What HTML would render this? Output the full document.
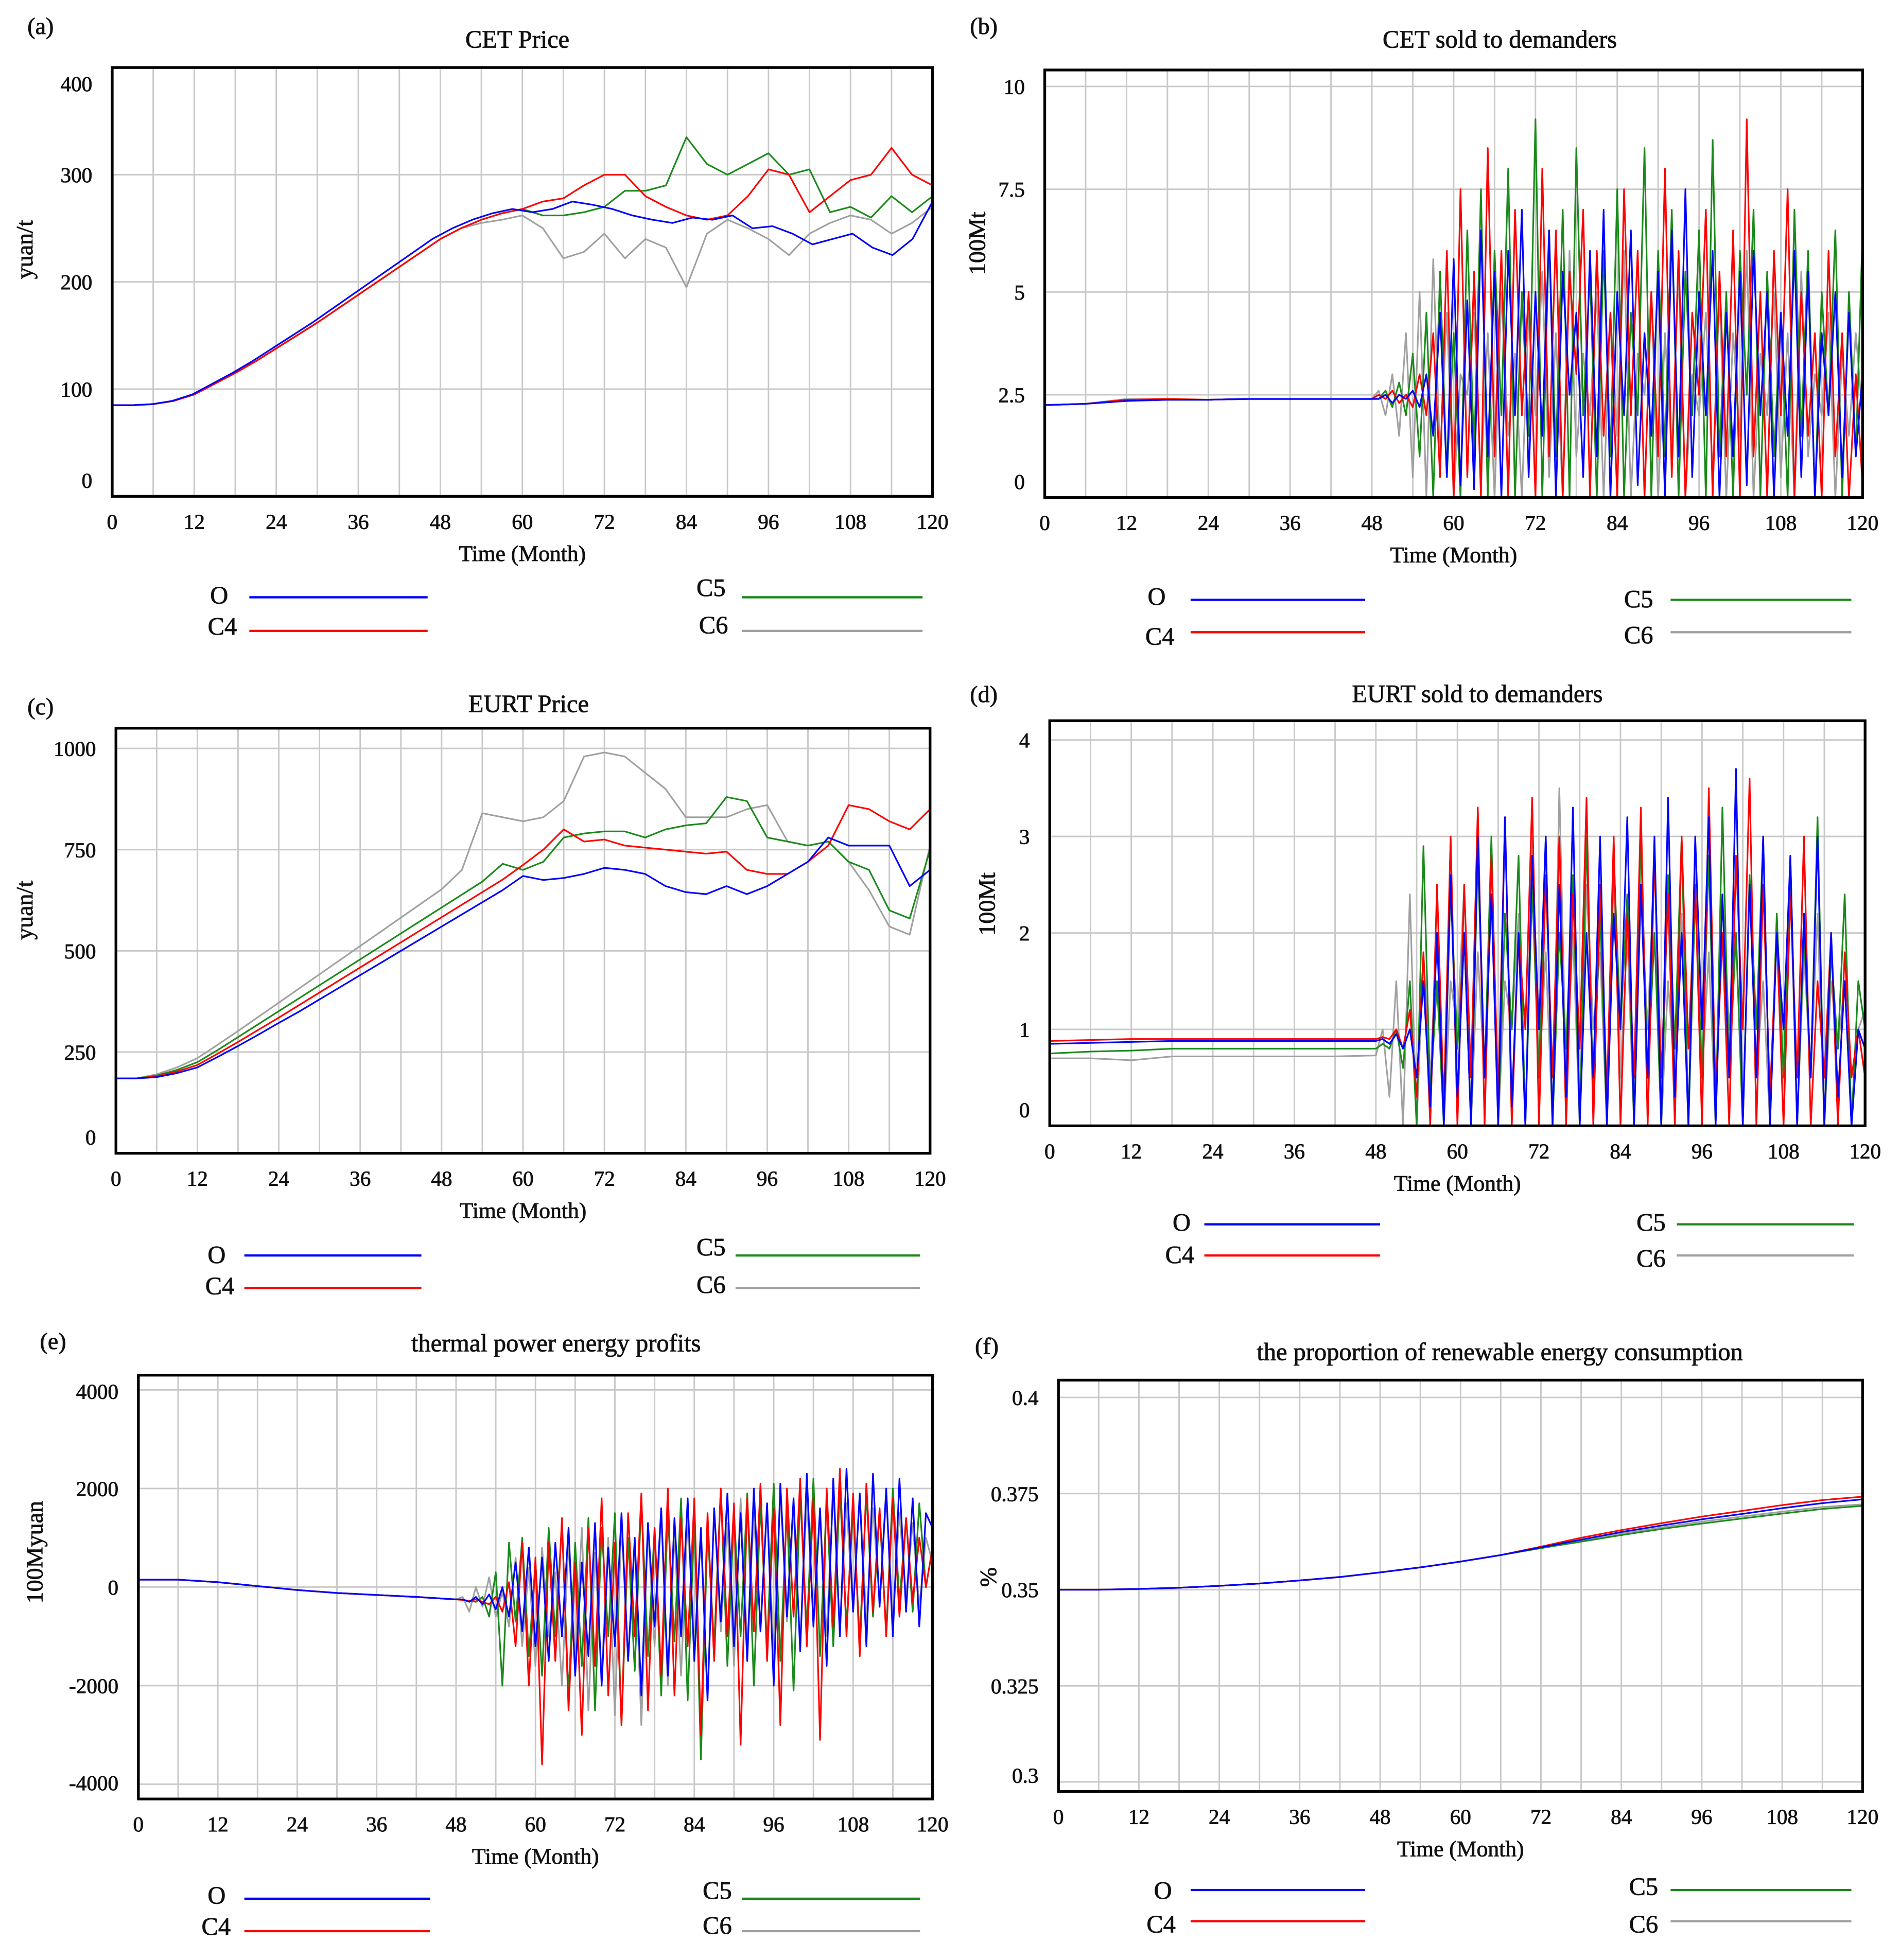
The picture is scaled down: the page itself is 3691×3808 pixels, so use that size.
<!DOCTYPE html>
<html><head><meta charset="utf-8">
<style>
html,body{margin:0;padding:0;background:#fff;}
svg{display:block;}
text{font-family:"Liberation Serif",serif;fill:#111;stroke:#111;stroke-width:0.35;}
</style></head>
<body>
<svg id="fig" xmlns="http://www.w3.org/2000/svg" width="3691" height="3808" viewBox="0 0 1524 1572">
<rect x="0" y="0" width="1524" height="1572" fill="#fff"/>
</svg>
<script>
// ---------- data ----------
const xTickLabels = [0,12,24,36,48,60,72,84,96,108,120];
const seriesNames = ["O","C4","C5","C6"];

// (a) CET price, 0..120 step 3
const cetPriceO  = [85,85,86,89,95,105,115,126,138,150,162,175,188,201,214,227,240,250,258,264,268,265,268,275,272,268,262,258,255,260,258,262,250,252,245,235,240,245,232,225,240,275];
const cetPriceC4 = [85,85,86,89,95,105,115,126,138,150,162,175,188,201,214,227,240,250,258,264,268,275,278,290,300,300,280,270,262,258,262,280,305,300,265,280,295,300,325,300,290];
const cetPriceC5 = [85,85,86,89,95,105,115,126,138,150,162,175,188,201,214,227,240,250,258,264,268,262,262,265,270,285,285,290,335,310,300,310,320,300,305,265,270,260,280,265,280];
const cetPriceC6 = [85,85,86,89,95,105,115,126,138,150,162,175,188,201,214,227,240,250,255,258,262,250,222,228,245,222,240,232,195,245,258,250,240,225,245,255,262,258,245,255,270];

// (b) CET sold: prefix 0..48 step 6, then 48..120
const cetSoldPreO  = [2.25,2.28,2.35,2.38,2.38,2.40,2.40,2.40,2.40];
const cetSoldPreC4 = [2.25,2.28,2.38,2.40,2.38,2.40,2.40,2.40,2.40];
const cetSoldPreC5 = [2.25,2.28,2.36,2.38,2.38,2.40,2.40,2.40,2.40];
const cetSoldPreC6 = [2.25,2.28,2.40,2.38,2.38,2.40,2.40,2.40,2.40];
const cetSoldO  = [2.4,2.4,2.5,2.3,2.5,2.4,2.6,2.2,3.0,1.5,4.5,0.5,5.8,0.3,4.8,0.2,6.5,1.0,5.5,0.0,6.0,2.0,7.0,0.5,5.0,1.5,6.5,0.0,5.5,2.5,4.5,0.5,6.0,1.0,7.0,0.0,5.0,2.0,6.5,0.3,4.0,1.5,5.5,0.0,6.5,1.0,7.5,0.5,5.0,2.0,6.0,0.0,4.5,1.0,5.5,0.3,6.0,2.0,5.0,0.0,4.5,1.5,6.0,0.5,5.5,0.0,4.0,2.0,5.0,0.5,4.5,1.0,3.0];
const cetSoldC4 = [2.4,2.5,2.4,2.6,2.3,2.5,2.2,3.0,2.0,4.0,0.5,6.0,0.0,7.5,0.5,5.5,0.0,8.5,1.0,6.0,0.0,7.0,2.0,5.0,0.0,8.0,1.0,6.5,0.0,5.5,3.0,7.0,0.0,6.0,1.5,4.5,0.0,7.5,2.0,6.0,0.0,5.0,1.0,8.0,0.5,6.0,0.0,4.5,2.5,7.0,0.0,5.5,1.0,6.5,0.0,9.2,1.0,5.0,0.0,6.0,2.0,7.5,0.0,5.0,1.5,4.0,0.0,6.0,1.0,4.0,0.0,3.0,0.3];
const cetSoldC5 = [2.4,2.4,2.6,2.2,2.8,2.0,3.5,1.0,4.5,0.0,5.5,0.5,4.0,0.0,6.5,1.0,7.5,0.0,6.0,2.0,8.0,0.0,5.0,1.5,9.2,0.0,6.5,1.0,7.0,0.0,8.5,2.0,5.5,0.0,6.0,1.0,7.5,0.0,4.5,2.0,8.5,0.0,6.0,1.0,7.0,0.0,5.5,2.0,6.5,0.0,8.7,1.0,5.0,0.0,6.0,2.5,7.0,0.0,5.5,1.0,4.5,0.0,7.0,1.5,6.0,0.0,5.0,2.0,6.5,0.0,5.0,1.0,6.5];
const cetSoldC6 = [2.4,2.6,2.0,3.0,1.5,4.0,0.5,5.0,0.0,5.8,1.0,4.5,0.0,3.0,2.5,4.5,0.5,4.0,0.0,5.0,1.5,3.5,0.0,4.5,2.0,5.5,0.5,4.0,0.0,6.0,1.0,3.5,2.0,5.0,0.0,4.5,1.5,6.0,0.0,3.5,2.5,5.0,0.0,4.0,1.0,5.5,0.0,3.0,2.0,4.5,0.5,5.0,0.0,4.0,1.5,6.0,0.0,3.5,2.0,5.0,0.5,4.0,0.0,5.5,1.0,3.0,2.0,4.5,0.0,3.5,1.5,4.0,2.0];

// (c) EURT price, 0..120 step 3
const eurtPriceO  = [185,185,188,198,212,238,265,293,322,350,380,410,440,470,500,530,560,590,620,650,685,675,680,690,705,700,690,660,645,640,660,640,660,690,720,780,760,760,760,660,700];
const eurtPriceC4 = [185,185,190,202,218,246,275,305,335,366,397,428,459,490,521,552,583,614,645,676,712,750,800,770,775,760,755,750,745,740,745,700,690,690,720,760,860,850,820,800,850];
const eurtPriceC5 = [185,185,192,206,225,255,287,319,351,383,415,447,479,511,543,575,607,639,671,715,700,720,780,790,795,795,780,800,810,815,880,870,780,770,760,770,720,700,600,580,750];
const eurtPriceC6 = [185,185,195,212,235,268,302,337,372,407,442,477,512,547,582,617,652,700,840,830,820,830,870,980,990,980,940,900,830,830,830,850,860,770,760,770,720,650,560,540,760];

// (d) EURT sold: prefix 0..48 step 6, then 48..120
const eurtSoldPreO  = [0.85,0.86,0.87,0.88,0.88,0.88,0.88,0.88,0.88];
const eurtSoldPreC4 = [0.88,0.89,0.90,0.90,0.90,0.90,0.90,0.90,0.90];
const eurtSoldPreC5 = [0.75,0.77,0.78,0.80,0.80,0.80,0.80,0.80,0.80];
const eurtSoldPreC6 = [0.70,0.70,0.68,0.72,0.72,0.72,0.72,0.72,0.73];
const eurtSoldO  = [0.88,0.9,0.85,0.95,0.8,1.0,0.5,1.5,0.2,2.0,0.0,2.6,0.3,2.0,0.0,3.0,0.5,2.4,0.0,3.2,0.2,2.0,0.0,2.8,1.0,3.0,0.0,2.5,0.3,3.3,0.0,2.0,0.5,3.0,0.0,2.2,1.0,3.2,0.0,2.5,0.5,3.0,0.0,3.4,0.3,2.0,0.0,3.0,1.0,3.2,0.0,2.4,0.5,3.7,0.0,2.5,0.5,3.0,0.0,2.0,1.0,2.8,0.0,2.2,0.5,3.0,0.0,2.0,0.3,1.5,0.0,1.0,0.8];
const eurtSoldC4 = [0.9,0.92,0.9,1.0,0.8,1.2,0.3,1.8,0.0,2.5,0.2,3.0,0.0,2.5,0.5,3.3,0.0,2.8,0.3,3.2,0.0,2.0,1.0,3.4,0.0,2.6,0.5,3.0,0.0,2.4,0.8,3.4,0.0,2.5,0.3,3.0,0.0,2.2,0.5,3.3,0.0,2.8,0.5,2.4,0.0,3.0,0.8,2.5,0.0,3.5,0.3,2.0,0.0,2.8,1.0,3.6,0.0,2.5,0.3,2.0,0.0,2.4,0.5,3.0,0.0,1.5,0.5,2.0,0.0,1.8,0.5,1.0,0.5];
const eurtSoldC5 = [0.8,0.85,0.8,1.0,0.6,1.5,0.0,2.9,0.3,1.5,0.0,2.5,0.8,2.0,0.0,2.8,0.5,3.0,0.0,2.2,1.0,2.8,0.0,2.5,0.5,3.0,0.0,2.0,0.8,2.6,0.0,3.0,0.3,2.2,0.0,2.8,1.0,2.4,0.0,3.0,0.5,2.0,0.0,2.6,0.8,3.0,0.0,2.4,0.5,2.8,0.0,3.3,0.5,2.0,0.0,2.6,1.0,3.0,0.0,2.2,0.5,2.8,0.0,2.0,0.5,3.2,0.0,1.8,0.8,2.4,0.0,1.5,1.0];
const eurtSoldC6 = [0.73,1.0,0.3,1.5,0.0,2.4,0.0,1.8,0.5,2.0,0.0,1.5,1.0,2.5,0.0,1.8,0.5,2.8,0.0,1.5,1.0,2.2,0.0,3.0,0.5,1.8,0.0,3.5,0.5,2.0,0.0,2.5,1.0,1.8,0.0,2.6,0.5,2.0,0.0,2.4,1.0,2.8,0.0,1.5,0.5,2.2,0.0,2.8,0.5,1.8,0.0,2.4,1.0,2.0,0.0,2.6,0.5,1.5,0.0,2.0,1.0,2.5,0.0,1.8,0.5,2.2,0.0,1.5,0.8,1.5,0.0,1.0,1.2];

// (e) thermal profits: prefix 0..48 step 6, then 48..120
const profitPre = [150,150,100,20,-60,-120,-160,-200,-250];
const profitO  = [-250,-250,-300,-200,-350,-150,-450,0,-600,500,-900,800,-1200,600,-1500,900,-1000,1200,-1800,500,-1400,1300,-2000,800,-1200,1500,-1500,1000,-2200,1300,-800,1600,-1800,1400,-1000,1800,-1500,1200,-2300,1600,-700,1900,-1200,1500,-1500,2000,-900,1700,-2000,2100,-600,1800,-1300,2300,-800,1600,-1600,2200,-1000,2400,-500,1900,-1200,2300,-400,2000,-1000,2200,-500,1800,-800,1500,1200];
const profitC4 = [-250,-260,-280,-250,-300,-350,-200,-500,100,-1200,900,-2000,600,-3600,900,-1500,1400,-2500,500,-3000,1200,-1600,1800,-2200,900,-2800,1500,-1000,1900,-2500,1200,-1800,2000,-2200,1400,-1200,1800,-3000,1500,-1500,2000,-1000,1700,-3200,1800,-900,2100,-1500,1600,-2800,2000,-600,2200,-1200,1800,-3100,2000,-800,2400,-1000,1900,-1400,2100,-500,1600,-1000,1800,-600,1400,-300,1000,0,800];
const profitC5 = [-250,-260,-280,-300,-200,-600,300,-2000,900,-700,1000,-1400,500,-1800,1200,-1000,1300,-2200,900,-1600,1400,-2500,1200,-1000,1500,-2800,1000,-1700,1800,-1400,1200,-2200,1500,-1100,1800,-2300,1400,-3500,1200,-1200,2000,-1600,1500,-1000,1900,-2000,1700,-1200,2100,-1500,1600,-2100,1900,-900,2200,-1400,1800,-1200,2000,-800,1600,-1100,1900,-600,1500,-900,2000,-300,1400,-500,1700,0,800];
const profitC6 = [-250,-200,-500,0,-400,200,-600,-100,-800,600,-1200,400,-1600,800,-1000,300,-2000,900,-1500,1200,-2500,700,-1800,1000,-2600,1300,-1500,900,-2800,1200,-1200,1500,-2000,1100,-1800,1400,-1200,1000,-2200,1600,-900,1300,-1600,1800,-1200,1500,-800,1700,-1400,1900,-700,1600,-1200,1800,-600,1500,-1000,2000,-900,1700,-500,1900,-700,1600,-300,1800,-600,1500,-200,1300,-400,1000,500];

// (f) renewable proportion, 0..120 step 6
const renewO  = [0.3500,0.3500,0.3502,0.3505,0.3510,0.3516,0.3524,0.3533,0.3545,0.3558,0.3573,0.3590,0.3610,0.3630,0.3650,0.3667,0.3683,0.3697,0.3712,0.3725,0.3735];
const renewC4 = [0.3500,0.3500,0.3502,0.3505,0.3510,0.3516,0.3524,0.3533,0.3545,0.3558,0.3573,0.3590,0.3612,0.3635,0.3655,0.3673,0.3690,0.3705,0.3720,0.3733,0.3742];
const renewC5 = [0.3500,0.3500,0.3502,0.3505,0.3510,0.3516,0.3524,0.3533,0.3545,0.3558,0.3573,0.3590,0.3608,0.3625,0.3642,0.3658,0.3672,0.3685,0.3698,0.3710,0.3718];
const renewC6 = [0.3500,0.3500,0.3502,0.3505,0.3510,0.3516,0.3524,0.3533,0.3545,0.3558,0.3573,0.3590,0.3609,0.3628,0.3646,0.3662,0.3677,0.3690,0.3703,0.3715,0.3722];

// ---------- drawing ----------
const NS = "http://www.w3.org/2000/svg";
const svg = document.getElementById("fig");
const COLORS = {O:"#0000ff",C4:"#ff0000",C5:"#1a8a1a",C6:"#a0a0a0"};

function mk(tag, attrs, parent){
  const e = document.createElementNS(NS, tag);
  for (const k in attrs) e.setAttribute(k, attrs[k]);
  (parent||svg).appendChild(e);
  return e;
}
function txt(s, x, y, size, anchor, parent){
  const t = mk("text",{x:x,y:y,"font-size":size,"text-anchor":anchor||"middle"},parent);
  t.textContent = s;
  return t;
}
function even(arr, t0, t1){
  const n = arr.length;
  return arr.map((v,i)=>[t0 + i*(t1-t0)/(n-1), v]);
}

function chart(c){
  const g = mk("g",{});
  
  
  const xs = t => c.x0 + (t/120)*(c.x1-c.x0);
  const ys = v => c.y1 - (v-c.ymin)/(c.ymax-c.ymin)*(c.y1-c.y0);
  const grid = mk("g",{stroke:"#c9c9c9","stroke-width":1.2},g);
  
  
  for (let t=6;t<120;t+=6) mk("line",{x1:xs(t),x2:xs(t),y1:c.y0,y2:c.y1},grid);
  c.yticks.forEach(v=>{ mk("line",{x1:c.x0,x2:c.x1,y1:ys(v),y2:ys(v)},grid); });
  const order = ["C6","C5","C4","O"];
  order.forEach(nm=>{
    const pts = c.series[nm];
    const d = pts.map((p,i)=>(i?"L":"M")+xs(p[0]).toFixed(2)+" "+ys(Math.max(c.ymin,Math.min(c.ymax,p[1]))).toFixed(2)).join(" ");
    const p = mk("path",{d:d,fill:"none",stroke:COLORS[nm],"stroke-width":1.3,"stroke-linejoin":"round"},g);
    
    
  });
  const fr = mk("rect",{x:c.x0,y:c.y0,width:c.x1-c.x0,height:c.y1-c.y0,fill:"none",stroke:"#000","stroke-width":2.2},g);
  
  
  c.yticks.forEach((v,i)=>{
    let y = ys(v)+6;
    y = Math.max(c.y0+19, Math.min(c.y1-7, y));
    const t = txt(c.ylabels[i], c.x0-16, y, 17, "end", g);
    
    
  });
  xTickLabels.forEach(v=>{
    const t = txt(String(v), xs(v), c.y1+26, 17, "middle", g);
    
    
  });
  const xt = txt("Time (Month)", (c.x0+c.x1)/2+c.xtOff, c.y1+52, 18, "middle", g);
  
  
  const yt = txt(c.ytitle, 0, 0, 19, "middle", g);
  yt.setAttribute("transform", `translate(${c.ytx},${c.yty}) rotate(-90)`);
  
  
  const tt = txt(c.title, c.tx, c.ty, 20, "middle", g);
  
  
  const pl = txt(c.panel, c.px, c.py, 19, "start", g);
  
  
  const lg = mk("g",{},g);
  
  
  c.legend.forEach(L=>{
    const e = mk("g",{},lg);
    
    
    txt(L[0], L[1], L[2]+7, 20, "end", e);
    mk("line",{x1:L[3],x2:L[4],y1:L[5],y2:L[5],stroke:COLORS[L[0]],"stroke-width":1.8},e);
  });
}

const pre = (p, rest) => even(p,0,48).concat(even(rest,48,120).slice(1));

chart({name:"chart-cet-price",panel:"(a)",px:22,py:27,title:"CET Price",tx:415,ty:38,
  x0:90,x1:748,y0:54,y1:398,ymin:0,ymax:400,yticks:[0,100,200,300,400],ylabels:["0","100","200","300","400"],
  ytitle:"yuan/t",ytx:26,yty:200,xtOff:0,
  series:{O:even(cetPriceO,0,120),C4:even(cetPriceC4,0,120),C5:even(cetPriceC5,0,120),C6:even(cetPriceC6,0,120)},
  legend:[["O",183,477,200,343,479],["C4",190,502,200,343,506],["C5",582,471,595,740,479],["C6",584,501,595,740,506]]});

chart({name:"chart-cet-sold",panel:"(b)",px:778,py:27,title:"CET sold to demanders",tx:1203,ty:38,
  x0:838,x1:1494,y0:56,y1:399,ymin:0,ymax:10.4,yticks:[0,2.5,5,7.5,10],ylabels:["0","2.5","5","7.5","10"],
  ytitle:"100Mt",ytx:790,yty:195,xtOff:0,
  series:{O:pre(cetSoldPreO,cetSoldO),C4:pre(cetSoldPreC4,cetSoldC4),C5:pre(cetSoldPreC5,cetSoldC5),C6:pre(cetSoldPreC6,cetSoldC6)},
  legend:[["O",935,478,955,1095,481],["C4",942,510,955,1095,507],["C5",1326,480,1340,1485,481],["C6",1326,509,1340,1485,507]]});

chart({name:"chart-eurt-price",panel:"(c)",px:22,py:573,title:"EURT Price",tx:424,ty:571,
  x0:93,x1:746,y0:584,y1:925,ymin:0,ymax:1050,yticks:[0,250,500,750,1000],ylabels:["0","250","500","750","1000"],
  ytitle:"yuan/t",ytx:26,yty:730,xtOff:0,
  series:{O:even(eurtPriceO,0,120),C4:even(eurtPriceC4,0,120),C5:even(eurtPriceC5,0,120),C6:even(eurtPriceC6,0,120)},
  legend:[["O",181,1006,196,338,1007],["C4",188,1031,196,338,1033],["C5",582,1000,590,738,1007],["C6",582,1030,590,738,1033]]});

chart({name:"chart-eurt-sold",panel:"(d)",px:778,py:563,title:"EURT sold to demanders",tx:1185,ty:563,
  x0:842,x1:1496,y0:578,y1:903,ymin:0,ymax:4.2,yticks:[0,1,2,3,4],ylabels:["0","1","2","3","4"],
  ytitle:"100Mt",ytx:798,yty:725,xtOff:0,
  series:{O:pre(eurtSoldPreO,eurtSoldO),C4:pre(eurtSoldPreC4,eurtSoldC4),C5:pre(eurtSoldPreC5,eurtSoldC5),C6:pre(eurtSoldPreC6,eurtSoldC6)},
  legend:[["O",955,980,966,1107,982],["C4",958,1006,966,1107,1007],["C5",1336,980,1345,1487,982],["C6",1336,1009,1345,1487,1007]]});

chart({name:"chart-thermal-profits",panel:"(e)",px:32,py:1082,title:"thermal power energy profits",tx:446,ty:1084,
  x0:111,x1:748,y0:1103,y1:1443,ymin:-4300,ymax:4300,yticks:[-4000,-2000,0,2000,4000],ylabels:["-4000","-2000","0","2000","4000"],
  ytitle:"100Myuan",ytx:34,yty:1245,xtOff:0,
  series:{O:pre(profitPre,profitO),C4:pre(profitPre,profitC4),C5:pre(profitPre,profitC5),C6:pre(profitPre,profitC6)},
  legend:[["O",181,1520,196,345,1523],["C4",185,1545,196,345,1549],["C5",587,1516,595,738,1523],["C6",587,1544,595,738,1549]]});

chart({name:"chart-renewable-proportion",panel:"(f)",px:782,py:1086,title:"the proportion of renewable energy consumption",tx:1203,ty:1091,
  x0:849,x1:1494,y0:1107,y1:1437,ymin:0.2975,ymax:0.4045,yticks:[0.3,0.325,0.35,0.375,0.4],ylabels:["0.3","0.325","0.35","0.375","0.4"],
  ytitle:"%",ytx:799,yty:1265,xtOff:0,
  series:{O:even(renewO,0,120),C4:even(renewC4,0,120),C5:even(renewC5,0,120),C6:even(renewC6,0,120)},
  legend:[["O",940,1516,955,1095,1516],["C4",943,1543,955,1095,1541],["C5",1330,1513,1340,1485,1516],["C6",1330,1543,1340,1485,1541]]});
</script>
</body></html>
